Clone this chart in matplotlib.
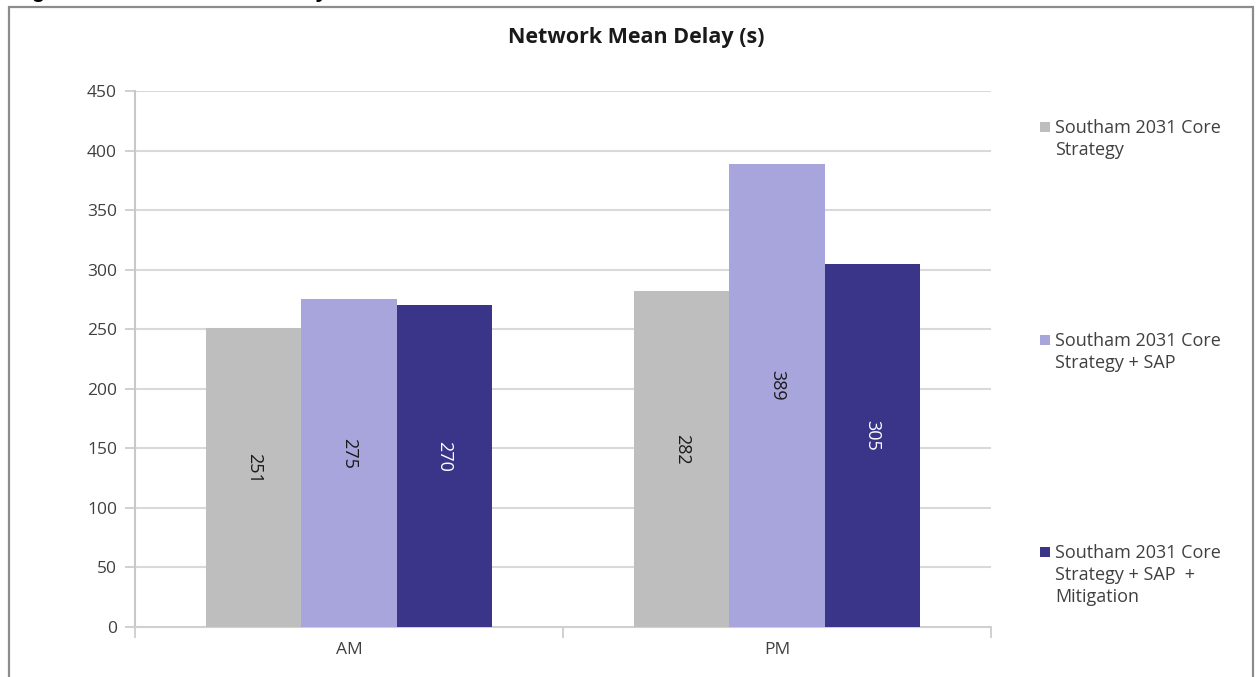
import matplotlib
matplotlib.use("Agg")
import matplotlib.pyplot as plt
from matplotlib.patches import Rectangle
import numpy as np

# Chart data
periods = ["AM", "PM"]
series_names = [
    "Southam 2031 Core\nStrategy",
    "Southam 2031 Core\nStrategy + SAP",
    "Southam 2031 Core\nStrategy + SAP  +\nMitigation",
]
core = [251, 282]
core_sap = [275, 389]
core_sap_mit = [270, 305]
yticks = [0, 50, 100, 150, 200, 250, 300, 350, 400, 450]

series_values = [core, core_sap, core_sap_mit]
colors = ["#bebebe", "#a7a5db", "#3b3589"]
label_colors = ["#1a1a1a", "#1a1a1a", "#ffffff"]

plt.rcParams["font.family"] = ["Open Sans", "DejaVu Sans"]

W, H = 1258, 677
fig = plt.figure(figsize=(W / 100, H / 100), dpi=100)

ax = fig.add_axes([135 / W, 1 - 627 / H, (991 - 135) / W, (627 - 91) / H])

x = np.arange(len(periods))
bw = 0.222
for i, (vals, col, lc) in enumerate(zip(series_values, colors, label_colors)):
    pos = x + (i - 1) * bw
    bars = ax.bar(pos, vals, width=bw, color=col, zorder=3, linewidth=0)
    for b, v in zip(bars, vals):
        ax.text(b.get_x() + b.get_width() / 2, v / 2 + 8, f"{v}",
                rotation=270, ha="center", va="center",
                fontsize=13, color=lc, zorder=4)

ax.set_xlim(-0.5, 1.5)
ax.set_ylim(0, 450)
ax.set_yticks(yticks)
ax.yaxis.grid(True, color="#d9d9d9", linewidth=1.5, zorder=0)
ax.set_axisbelow(True)

ax.set_xticks([-0.5, 0.5, 1.5], minor=False)
ax.set_xticks(x, minor=True)
ax.set_xticklabels(["", "", ""])
ax.set_xticklabels(periods, minor=True)
ax.tick_params(axis="x", which="major", length=8, width=1.2, color="#c8c8c8")
ax.tick_params(axis="x", which="minor", length=0, pad=11,
               labelsize=12.5, labelcolor="#404040")
ax.tick_params(axis="y", length=7, width=1.2, color="#c8c8c8",
               labelsize=12.5, labelcolor="#404040", pad=6)

for s in ["top", "right"]:
    ax.spines[s].set_visible(False)
ax.spines["left"].set_color("#c8c8c8")
ax.spines["left"].set_linewidth(1.5)
ax.spines["bottom"].set_color("#d0d0d0")
ax.spines["bottom"].set_linewidth(1.5)

fig.text(636 / W, 1 - 37 / H, "Network Mean Delay (s)", ha="center",
         va="center", fontsize=15.5, fontweight="bold", color="#1a1a1a")

# Legend laid out down the right-hand side
legend_tops = [127, 340, 552]
for name, col, ty in zip(series_names, colors, legend_tops):
    fig.add_artist(Rectangle(((1040) / W, 1 - (ty + 5) / H), 10 / W, 10 / H,
                             transform=fig.transFigure, color=col, lw=0))
    fig.text(1055 / W, 1 - (ty - 8) / H, name, ha="left", va="top",
             fontsize=13, color="#404040", linespacing=1.3)

# Outer frame
fig.add_artist(Rectangle((9 / W, -0.01), (1253 - 9) / W, 1 - 7 / H + 0.01,
                         transform=fig.transFigure, fill=False,
                         edgecolor="#8c8c8c", lw=1.6))

# Caption above the frame
fig.text(12 / W, 1 + 3 / H, "Figure 5: Network Mean Delay", ha="left",
         va="baseline", fontsize=16, fontweight="bold",
         family=["Liberation Sans", "DejaVu Sans"], color="#000000")

fig.savefig("out.png", dpi=100)
